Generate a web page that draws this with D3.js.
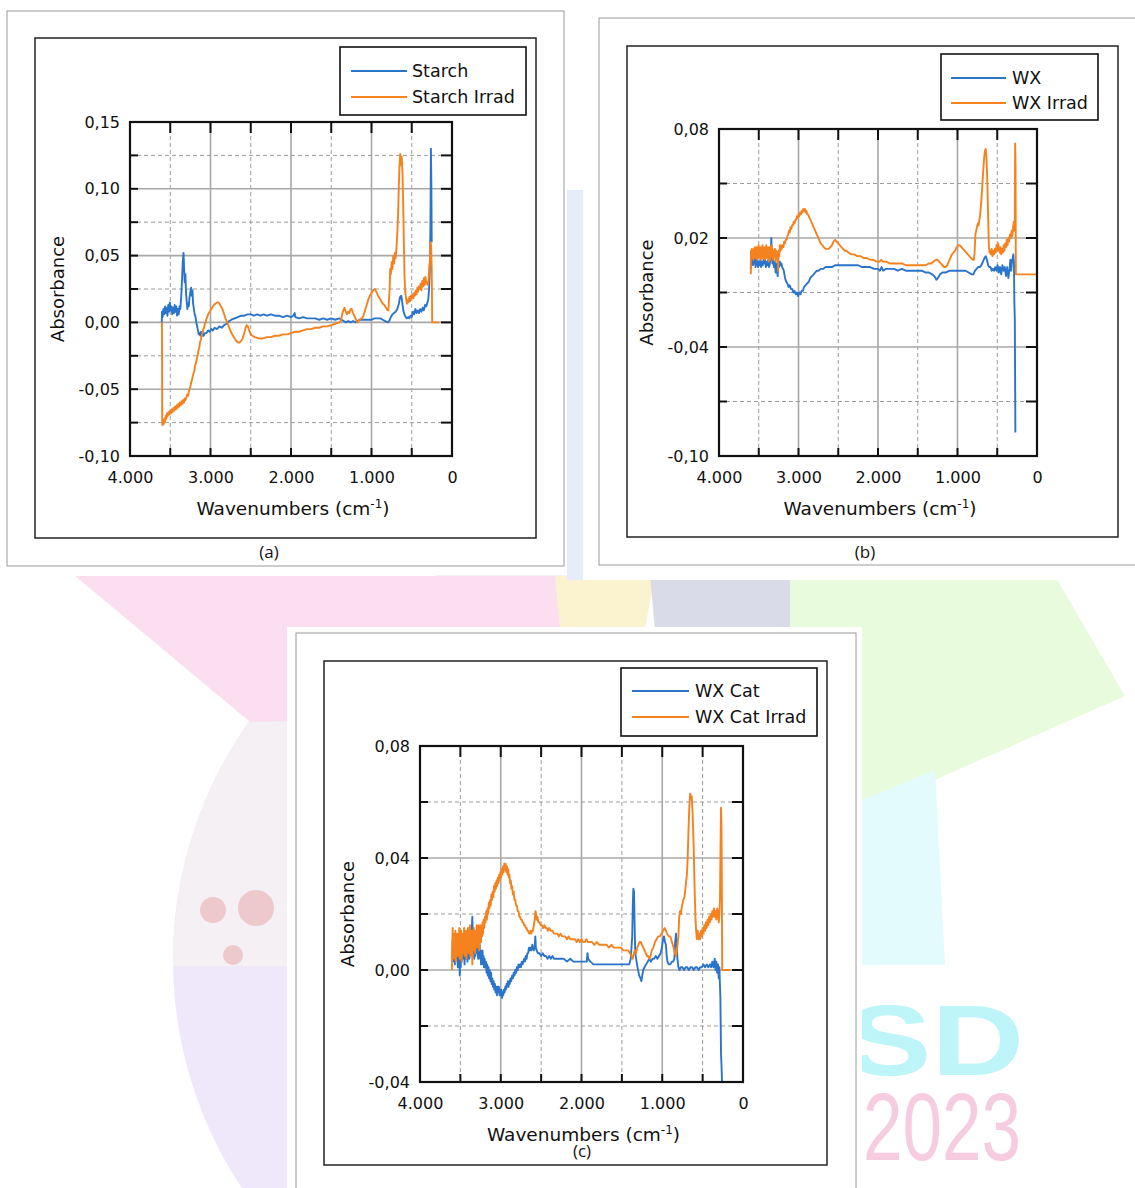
<!DOCTYPE html>
<html>
<head>
<meta charset="utf-8">
<script src="https://cdn.jsdelivr.net/npm/d3@7"></script>
<style>
  body { margin: 0; background: #fff; }
  svg { display: block; }
</style>
</head>
<body>
<script>
// ---- data: [wavenumber, absorbance] ----
var starch = [[3605,0.000],[3603,0.008],[3595,0.004],[3585,0.010],[3575,0.006],[3565,0.012],[3555,0.007],[3545,0.011],[3535,0.005],[3525,0.013],[3515,0.008],[3505,0.015],[3495,0.009],[3485,0.012],[3475,0.006],[3465,0.011],[3455,0.007],[3445,0.013],[3435,0.008],[3425,0.012],[3415,0.005],[3405,0.010],[3395,0.006],[3385,0.012],[3375,0.010],[3365,0.018],[3355,0.030],[3345,0.045],[3335,0.052],[3328,0.040],[3320,0.030],[3312,0.036],[3304,0.022],[3296,0.016],[3288,0.010],[3280,0.014],[3270,0.012],[3262,0.018],[3252,0.022],[3240,0.026],[3232,0.020],[3224,0.024],[3216,0.014],[3206,0.010],[3196,0.006],[3186,0.004],[3176,0.000],[3166,-0.003],[3156,-0.006],[3146,-0.009],[3136,-0.008],[3126,-0.010],[3116,-0.007],[3106,-0.010],[3096,-0.008],[3086,-0.010],[3070,-0.008],[3050,-0.008],[3030,-0.006],[3010,-0.007],[2990,-0.005],[2970,-0.006],[2950,-0.004],[2920,-0.005],[2890,-0.003],[2860,-0.004],[2830,-0.002],[2800,-0.001],[2770,0.001],[2740,0.002],[2700,0.003],[2660,0.004],[2620,0.005],[2580,0.005],[2540,0.006],[2500,0.006],[2460,0.005],[2420,0.006],[2380,0.005],[2340,0.006],[2300,0.005],[2250,0.006],[2200,0.005],[2150,0.005],[2100,0.004],[2050,0.005],[2000,0.004],[1970,0.005],[1955,0.007],[1945,0.004],[1900,0.003],[1850,0.004],[1800,0.003],[1750,0.003],[1700,0.003],[1650,0.002],[1600,0.003],[1550,0.002],[1500,0.003],[1450,0.002],[1400,0.003],[1370,0.002],[1345,0.001],[1320,0.000],[1290,0.001],[1260,0.000],[1230,0.001],[1200,0.000],[1180,0.001],[1150,0.002],[1100,0.002],[1050,0.002],[1000,0.002],[960,0.003],[920,0.003],[890,0.003],[860,0.002],[830,0.001],[800,0.000],[780,0.001],[760,0.004],[740,0.006],[720,0.007],[700,0.008],[680,0.010],[660,0.014],[645,0.019],[630,0.020],[618,0.015],[605,0.009],[590,0.006],[575,0.004],[560,0.003],[545,0.004],[530,0.003],[515,0.005],[500,0.004],[485,0.008],[470,0.006],[455,0.010],[440,0.007],[425,0.009],[410,0.007],[395,0.010],[380,0.008],[365,0.011],[350,0.009],[335,0.013],[320,0.012],[305,0.015],[295,0.017],[285,0.025],[275,0.040],[268,0.070],[262,0.130],[256,0.100],[252,0.060]];

var starchIrrad = [[3603,0.000],[3600,-0.075],[3595,-0.077],[3588,-0.073],[3580,-0.076],[3572,-0.072],[3564,-0.074],[3556,-0.070],[3548,-0.072],[3540,-0.068],[3530,-0.070],[3520,-0.067],[3510,-0.069],[3500,-0.066],[3490,-0.068],[3480,-0.065],[3470,-0.067],[3460,-0.064],[3450,-0.066],[3440,-0.063],[3430,-0.065],[3420,-0.062],[3410,-0.064],[3400,-0.061],[3390,-0.063],[3380,-0.060],[3370,-0.062],[3360,-0.059],[3350,-0.061],[3340,-0.058],[3330,-0.060],[3320,-0.057],[3310,-0.058],[3300,-0.056],[3290,-0.054],[3280,-0.055],[3270,-0.052],[3260,-0.050],[3250,-0.048],[3240,-0.045],[3230,-0.043],[3220,-0.040],[3210,-0.038],[3200,-0.036],[3190,-0.032],[3180,-0.030],[3170,-0.027],[3160,-0.025],[3150,-0.021],[3140,-0.019],[3130,-0.015],[3120,-0.013],[3110,-0.010],[3100,-0.008],[3090,-0.005],[3080,-0.004],[3070,-0.001],[3060,0.000],[3050,0.003],[3040,0.004],[3030,0.006],[3020,0.007],[3000,0.009],[2980,0.011],[2960,0.013],[2940,0.014],[2920,0.015],[2900,0.015],[2880,0.013],[2860,0.011],[2840,0.008],[2820,0.004],[2800,0.001],[2780,-0.002],[2760,-0.005],[2740,-0.008],[2720,-0.010],[2700,-0.012],[2680,-0.014],[2660,-0.015],[2640,-0.015],[2620,-0.014],[2600,-0.012],[2580,-0.008],[2565,-0.004],[2550,-0.002],[2535,-0.003],[2520,-0.006],[2500,-0.009],[2480,-0.010],[2450,-0.011],[2400,-0.012],[2350,-0.012],[2300,-0.011],[2250,-0.011],[2200,-0.010],[2150,-0.010],[2100,-0.009],[2050,-0.009],[2000,-0.008],[1950,-0.007],[1900,-0.007],[1850,-0.006],[1800,-0.005],[1750,-0.005],[1700,-0.004],[1650,-0.004],[1600,-0.003],[1550,-0.003],[1500,-0.002],[1450,-0.001],[1400,0.000],[1380,0.001],[1365,0.006],[1350,0.009],[1335,0.011],[1320,0.008],[1305,0.006],[1290,0.008],[1275,0.007],[1260,0.010],[1245,0.010],[1230,0.007],[1215,0.005],[1200,0.003],[1185,0.001],[1170,0.000],[1150,0.002],[1120,0.003],[1100,0.005],[1080,0.009],[1060,0.013],[1040,0.017],[1020,0.020],[1000,0.022],[980,0.024],[960,0.025],[940,0.023],[920,0.020],[900,0.018],[880,0.016],[860,0.014],[840,0.013],[820,0.011],[800,0.009],[790,0.009],[775,0.025],[768,0.040],[760,0.036],[750,0.045],[740,0.040],[730,0.050],[720,0.044],[710,0.052],[700,0.048],[690,0.056],[680,0.066],[670,0.080],[660,0.104],[650,0.120],[643,0.126],[635,0.118],[625,0.124],[615,0.112],[605,0.084],[598,0.060],[590,0.035],[580,0.022],[570,0.018],[560,0.014],[550,0.017],[540,0.015],[530,0.019],[520,0.016],[510,0.020],[500,0.018],[490,0.021],[480,0.018],[470,0.022],[460,0.020],[450,0.024],[440,0.021],[430,0.026],[420,0.023],[410,0.027],[400,0.025],[390,0.029],[380,0.024],[370,0.031],[360,0.027],[350,0.033],[340,0.028],[330,0.034],[320,0.029],[310,0.030],[300,0.028],[290,0.032],[282,0.042],[275,0.046],[268,0.060],[260,0.058],[252,0.040],[246,0.000],[160,0.000]];

var wx = [[3600,0.003],[3595,0.009],[3588,0.006],[3580,0.009],[3572,0.005],[3564,0.008],[3556,0.006],[3548,0.009],[3540,0.004],[3532,0.008],[3524,0.005],[3516,0.008],[3508,0.004],[3500,0.007],[3490,0.005],[3480,0.008],[3470,0.004],[3460,0.007],[3450,0.005],[3440,0.008],[3430,0.006],[3420,0.008],[3410,0.004],[3400,0.007],[3390,0.005],[3380,0.008],[3370,0.004],[3360,0.006],[3350,0.010],[3342,0.020],[3336,0.012],[3328,0.006],[3318,0.008],[3308,0.004],[3298,0.007],[3288,0.001],[3280,0.006],[3270,0.002],[3262,-0.001],[3255,0.006],[3245,0.004],[3235,0.007],[3225,0.005],[3215,0.006],[3205,0.004],[3195,0.003],[3185,0.002],[3170,-0.002],[3155,-0.004],[3140,-0.005],[3125,-0.007],[3110,-0.006],[3095,-0.008],[3080,-0.008],[3065,-0.010],[3050,-0.009],[3035,-0.011],[3020,-0.010],[3005,-0.012],[2990,-0.010],[2975,-0.011],[2960,-0.009],[2945,-0.009],[2930,-0.007],[2910,-0.006],[2890,-0.005],[2870,-0.004],[2850,-0.002],[2830,-0.001],[2810,0.000],[2790,0.001],[2770,0.002],[2750,0.002],[2720,0.003],[2690,0.003],[2660,0.004],[2620,0.004],[2580,0.004],[2540,0.005],[2500,0.005],[2450,0.005],[2400,0.005],[2350,0.005],[2300,0.005],[2250,0.005],[2200,0.004],[2150,0.004],[2100,0.004],[2050,0.003],[2000,0.003],[1975,0.002],[1955,0.004],[1935,0.002],[1900,0.003],[1850,0.003],[1800,0.003],[1750,0.002],[1700,0.003],[1650,0.002],[1600,0.002],[1550,0.002],[1500,0.002],[1450,0.002],[1400,0.001],[1360,0.001],[1320,0.000],[1290,-0.001],[1265,-0.003],[1245,-0.002],[1220,0.000],[1190,0.001],[1150,0.001],[1100,0.002],[1050,0.002],[1000,0.002],[950,0.002],[900,0.002],[860,0.001],[820,0.000],[800,0.000],[780,0.002],[760,0.003],[740,0.004],[720,0.004],[700,0.005],[680,0.007],[660,0.009],[645,0.010],[630,0.008],[615,0.005],[600,0.004],[585,0.004],[570,0.002],[555,0.003],[540,0.002],[525,0.004],[510,0.002],[495,0.005],[480,0.001],[465,0.004],[450,0.000],[435,0.005],[420,0.002],[405,0.004],[390,-0.001],[375,0.004],[360,-0.002],[345,0.003],[335,0.008],[325,0.002],[315,0.007],[305,0.009],[298,0.011],[290,0.006],[285,-0.015],[279,-0.025],[272,-0.087]];

var wxIrrad = [[3600,0.000],[3598,0.013],[3592,0.009],[3586,0.014],[3580,0.010],[3574,0.013],[3568,0.008],[3562,0.014],[3556,0.011],[3550,0.015],[3544,0.009],[3538,0.013],[3532,0.010],[3526,0.015],[3520,0.008],[3514,0.014],[3508,0.011],[3502,0.016],[3496,0.009],[3490,0.013],[3484,0.010],[3478,0.015],[3472,0.008],[3466,0.013],[3460,0.011],[3454,0.016],[3448,0.009],[3442,0.014],[3436,0.011],[3430,0.015],[3424,0.008],[3418,0.013],[3412,0.010],[3406,0.016],[3400,0.009],[3394,0.014],[3388,0.011],[3382,0.015],[3376,0.007],[3370,0.012],[3364,0.010],[3358,0.015],[3352,0.008],[3346,0.013],[3340,0.016],[3334,0.010],[3328,0.014],[3320,0.008],[3312,0.013],[3304,0.010],[3296,0.014],[3288,0.007],[3280,0.013],[3272,0.009],[3264,0.012],[3256,0.002],[3250,0.013],[3242,0.010],[3234,0.016],[3226,0.013],[3218,0.016],[3210,0.014],[3200,0.016],[3190,0.015],[3180,0.018],[3170,0.017],[3160,0.019],[3150,0.019],[3140,0.021],[3130,0.022],[3120,0.024],[3110,0.023],[3100,0.026],[3090,0.025],[3080,0.027],[3070,0.027],[3060,0.029],[3050,0.028],[3040,0.030],[3030,0.030],[3020,0.032],[3010,0.031],[3000,0.033],[2990,0.032],[2980,0.034],[2970,0.033],[2960,0.035],[2950,0.034],[2940,0.036],[2930,0.035],[2920,0.036],[2910,0.034],[2900,0.035],[2890,0.033],[2880,0.033],[2860,0.031],[2840,0.029],[2820,0.027],[2800,0.025],[2780,0.023],[2760,0.021],[2740,0.019],[2720,0.017],[2700,0.016],[2680,0.015],[2660,0.014],[2640,0.014],[2620,0.014],[2600,0.015],[2580,0.016],[2560,0.018],[2540,0.019],[2520,0.018],[2500,0.017],[2480,0.016],[2460,0.015],[2440,0.014],[2420,0.013],[2400,0.013],[2370,0.012],[2340,0.011],[2300,0.011],[2260,0.010],[2220,0.010],[2180,0.009],[2140,0.009],[2100,0.008],[2060,0.008],[2020,0.007],[1980,0.007],[1960,0.008],[1940,0.007],[1900,0.007],[1850,0.006],[1800,0.006],[1750,0.006],[1700,0.006],[1650,0.005],[1600,0.005],[1550,0.005],[1500,0.005],[1450,0.005],[1400,0.005],[1360,0.006],[1330,0.006],[1300,0.007],[1270,0.008],[1250,0.008],[1230,0.007],[1210,0.006],[1190,0.005],[1170,0.004],[1150,0.004],[1130,0.005],[1110,0.007],[1090,0.009],[1070,0.011],[1050,0.012],[1030,0.013],[1010,0.015],[990,0.016],[970,0.016],[950,0.015],[930,0.014],[910,0.013],[890,0.012],[870,0.011],[850,0.010],[830,0.009],[810,0.008],[795,0.008],[785,0.012],[775,0.022],[765,0.024],[755,0.026],[745,0.028],[735,0.027],[725,0.030],[715,0.033],[705,0.038],[695,0.044],[685,0.051],[675,0.058],[665,0.064],[655,0.068],[645,0.069],[638,0.066],[630,0.058],[622,0.046],[614,0.030],[606,0.016],[598,0.012],[590,0.013],[580,0.011],[570,0.014],[560,0.010],[550,0.013],[540,0.011],[530,0.014],[520,0.012],[510,0.016],[500,0.013],[490,0.017],[480,0.014],[470,0.012],[460,0.015],[450,0.011],[440,0.014],[430,0.012],[420,0.016],[410,0.013],[400,0.017],[390,0.015],[380,0.019],[370,0.016],[360,0.020],[350,0.018],[340,0.022],[330,0.020],[320,0.024],[310,0.021],[300,0.026],[292,0.029],[286,0.024],[280,0.026],[275,0.072],[270,0.060],[266,0.000],[0,0.000]];

var wxCat = [[3600,0.004],[3595,0.010],[3590,0.006],[3585,0.011],[3580,0.003],[3574,0.008],[3568,0.002],[3562,0.009],[3556,0.005],[3550,0.010],[3544,0.004],[3538,0.007],[3532,0.001],[3526,0.006],[3520,0.003],[3514,0.008],[3508,-0.002],[3502,0.004],[3496,0.001],[3490,0.007],[3484,0.003],[3478,0.009],[3472,0.004],[3466,0.010],[3460,0.005],[3454,0.008],[3448,0.002],[3442,0.009],[3436,0.004],[3430,0.011],[3424,0.006],[3418,0.009],[3412,0.003],[3406,0.008],[3400,0.005],[3394,0.010],[3388,0.004],[3382,0.009],[3376,0.006],[3370,0.012],[3364,0.007],[3358,0.015],[3352,0.019],[3346,0.010],[3340,0.006],[3334,0.011],[3328,0.004],[3322,0.009],[3316,0.005],[3310,0.010],[3304,0.006],[3298,0.012],[3292,0.008],[3286,0.007],[3280,0.004],[3274,0.009],[3268,0.006],[3262,0.010],[3256,0.004],[3250,0.007],[3244,0.002],[3238,0.006],[3232,0.003],[3226,0.007],[3220,0.002],[3214,0.005],[3208,0.001],[3200,0.004],[3192,0.001],[3184,0.003],[3176,-0.001],[3168,0.002],[3160,-0.002],[3152,0.001],[3144,-0.003],[3136,0.000],[3128,-0.004],[3120,-0.001],[3112,-0.005],[3104,-0.003],[3096,-0.006],[3088,-0.004],[3080,-0.007],[3072,-0.005],[3064,-0.008],[3056,-0.006],[3048,-0.009],[3040,-0.006],[3032,-0.008],[3024,-0.006],[3016,-0.009],[3008,-0.007],[3000,-0.009],[2992,-0.007],[2984,-0.010],[2976,-0.008],[2968,-0.009],[2960,-0.007],[2952,-0.008],[2944,-0.006],[2936,-0.007],[2928,-0.005],[2920,-0.006],[2912,-0.004],[2904,-0.006],[2896,-0.004],[2888,-0.005],[2880,-0.003],[2870,-0.004],[2860,-0.002],[2850,-0.003],[2840,-0.001],[2830,-0.002],[2820,0.000],[2810,-0.001],[2800,0.001],[2790,0.000],[2780,0.002],[2770,0.001],[2760,0.002],[2750,0.001],[2740,0.003],[2730,0.002],[2720,0.003],[2710,0.004],[2700,0.003],[2690,0.005],[2680,0.004],[2670,0.006],[2660,0.006],[2650,0.008],[2640,0.007],[2630,0.008],[2620,0.007],[2610,0.009],[2600,0.008],[2590,0.007],[2580,0.008],[2572,0.012],[2565,0.008],[2555,0.007],[2540,0.006],[2520,0.006],[2500,0.005],[2480,0.006],[2460,0.005],[2440,0.005],[2420,0.004],[2400,0.005],[2380,0.004],[2360,0.005],[2340,0.004],[2300,0.004],[2260,0.004],[2220,0.004],[2180,0.003],[2140,0.004],[2100,0.003],[2060,0.003],[2020,0.003],[1990,0.003],[1960,0.003],[1935,0.003],[1926,0.006],[1918,0.004],[1890,0.003],[1850,0.002],[1800,0.002],[1750,0.002],[1700,0.002],[1650,0.002],[1600,0.002],[1550,0.002],[1500,0.002],[1450,0.002],[1410,0.002],[1390,0.004],[1372,0.012],[1364,0.024],[1358,0.029],[1350,0.028],[1342,0.016],[1334,0.006],[1318,0.003],[1300,0.000],[1285,-0.002],[1270,-0.003],[1258,-0.004],[1248,-0.002],[1235,0.000],[1220,0.001],[1200,0.002],[1180,0.003],[1160,0.004],[1140,0.003],[1120,0.004],[1100,0.004],[1080,0.005],[1060,0.004],[1040,0.005],[1020,0.006],[1005,0.008],[990,0.011],[978,0.012],[966,0.010],[955,0.009],[945,0.005],[935,0.003],[920,0.002],[900,0.002],[880,0.003],[865,0.003],[850,0.004],[840,0.010],[830,0.013],[822,0.010],[812,0.004],[800,0.001],[785,0.000],[770,0.001],[750,0.001],[730,0.000],[710,0.001],[690,0.001],[670,0.000],[650,0.001],[630,0.001],[610,0.000],[590,0.001],[570,0.001],[550,0.000],[530,0.001],[510,0.001],[490,0.002],[470,0.001],[450,0.002],[430,0.001],[410,0.002],[395,0.001],[380,0.003],[365,0.001],[350,0.004],[340,0.000],[330,0.003],[320,-0.001],[310,0.002],[300,-0.003],[292,0.001],[286,-0.005],[280,-0.010],[272,-0.030],[266,-0.034],[260,-0.040]];

var wxCatIrrad = [[3605,0.000],[3600,0.010],[3595,0.015],[3590,0.006],[3585,0.013],[3580,0.004],[3574,0.012],[3568,0.007],[3562,0.014],[3556,0.003],[3550,0.011],[3544,0.006],[3538,0.013],[3532,0.005],[3526,0.012],[3520,0.008],[3514,0.015],[3508,0.004],[3502,0.012],[3496,0.007],[3490,0.014],[3484,0.003],[3478,0.011],[3472,0.006],[3466,0.013],[3460,0.009],[3454,0.015],[3448,0.005],[3442,0.013],[3436,0.008],[3430,0.014],[3424,0.004],[3418,0.012],[3412,0.007],[3406,0.015],[3400,0.006],[3394,0.013],[3388,0.009],[3382,0.016],[3376,0.005],[3370,0.012],[3364,0.008],[3358,0.014],[3352,0.002],[3346,0.011],[3340,0.007],[3334,0.015],[3328,0.010],[3322,0.013],[3316,0.006],[3310,0.014],[3304,0.009],[3298,0.016],[3292,0.008],[3286,0.013],[3280,0.010],[3274,0.016],[3268,0.007],[3262,0.014],[3256,0.011],[3250,0.016],[3244,0.010],[3238,0.015],[3232,0.012],[3226,0.017],[3220,0.013],[3212,0.018],[3204,0.015],[3196,0.019],[3188,0.017],[3180,0.021],[3172,0.018],[3164,0.022],[3156,0.020],[3148,0.024],[3140,0.022],[3132,0.025],[3124,0.023],[3116,0.027],[3108,0.025],[3100,0.028],[3092,0.026],[3084,0.030],[3076,0.028],[3068,0.031],[3060,0.029],[3052,0.032],[3044,0.030],[3036,0.033],[3028,0.031],[3020,0.034],[3012,0.032],[3004,0.035],[2996,0.033],[2988,0.036],[2980,0.034],[2972,0.037],[2964,0.035],[2956,0.038],[2948,0.036],[2940,0.038],[2932,0.035],[2924,0.037],[2916,0.034],[2908,0.036],[2900,0.033],[2892,0.034],[2884,0.031],[2876,0.032],[2868,0.029],[2860,0.030],[2850,0.027],[2840,0.028],[2830,0.025],[2820,0.025],[2810,0.023],[2800,0.023],[2790,0.021],[2780,0.021],[2770,0.019],[2760,0.019],[2750,0.018],[2740,0.018],[2730,0.017],[2720,0.017],[2710,0.016],[2700,0.016],[2690,0.015],[2680,0.015],[2670,0.014],[2660,0.014],[2650,0.013],[2640,0.013],[2630,0.014],[2620,0.013],[2610,0.014],[2600,0.014],[2590,0.016],[2580,0.018],[2570,0.021],[2562,0.020],[2555,0.018],[2545,0.019],[2535,0.017],[2520,0.017],[2505,0.016],[2490,0.016],[2475,0.015],[2460,0.016],[2445,0.015],[2430,0.015],[2415,0.014],[2400,0.015],[2380,0.014],[2360,0.014],[2340,0.013],[2320,0.013],[2300,0.013],[2280,0.012],[2260,0.013],[2240,0.012],[2220,0.012],[2200,0.012],[2180,0.011],[2160,0.012],[2140,0.011],[2120,0.011],[2100,0.011],[2080,0.011],[2060,0.010],[2040,0.011],[2020,0.010],[2000,0.011],[1980,0.010],[1960,0.010],[1940,0.011],[1920,0.010],[1900,0.010],[1870,0.010],[1840,0.009],[1810,0.010],[1780,0.009],[1750,0.009],[1720,0.009],[1690,0.009],[1660,0.008],[1630,0.009],[1600,0.008],[1570,0.008],[1540,0.008],[1510,0.008],[1480,0.007],[1450,0.007],[1420,0.007],[1400,0.006],[1380,0.005],[1365,0.004],[1352,0.006],[1340,0.007],[1325,0.006],[1310,0.008],[1295,0.009],[1280,0.010],[1265,0.010],[1250,0.009],[1235,0.008],[1220,0.007],[1205,0.006],[1190,0.005],[1175,0.005],[1160,0.004],[1145,0.005],[1130,0.007],[1110,0.008],[1090,0.010],[1070,0.011],[1050,0.012],[1030,0.012],[1010,0.013],[990,0.014],[970,0.015],[955,0.014],[940,0.013],[920,0.012],[900,0.012],[880,0.010],[860,0.008],[845,0.006],[830,0.005],[815,0.008],[800,0.012],[790,0.019],[780,0.021],[770,0.020],[755,0.023],[740,0.025],[725,0.026],[710,0.030],[695,0.034],[685,0.040],[675,0.050],[665,0.058],[655,0.063],[645,0.061],[635,0.062],[624,0.056],[612,0.045],[600,0.030],[588,0.018],[578,0.013],[570,0.011],[560,0.014],[550,0.011],[540,0.013],[530,0.011],[520,0.014],[510,0.012],[500,0.015],[490,0.013],[480,0.016],[470,0.014],[460,0.017],[450,0.015],[440,0.018],[430,0.016],[420,0.019],[410,0.017],[400,0.020],[390,0.018],[380,0.021],[370,0.019],[360,0.022],[350,0.019],[340,0.021],[330,0.018],[320,0.022],[310,0.021],[300,0.017],[292,0.020],[285,0.025],[278,0.045],[272,0.058],[266,0.050],[262,0.030],[258,0.000],[160,0.000]];

var seriesNames = [["Starch", "Starch Irrad"], ["WX", "WX Irrad"], ["WX Cat", "WX Cat Irrad"]];
var xTicks = [4000, 3000, 2000, 1000, 0];
var yTicksA = [-0.10, -0.05, 0.00, 0.05, 0.10, 0.15];
var yTicksB = [-0.10, -0.04, 0.02, 0.08];
var yTicksC = [-0.04, 0.00, 0.04, 0.08];
var captions = ["(a)", "(b)", "(c)"];

var BLUE = "#2a74cc", ORANGE = "#f5821f";
var FONT = "DejaVu Sans, Verdana, sans-serif";

var loc = d3.formatLocale({decimal: ",", thousands: ".", grouping: [3], currency: ["", ""], minus: "-"});
var fmtX = loc.format(",.0f");
var fmtY = loc.format(".2f");

var svg = d3.select("body").append("svg")
  .attr("width", 1135).attr("height", 1188);

// ---- pastel backdrop behind the panels ----
var defs = svg.append("defs");
defs.append("clipPath").attr("id", "globe")
  .append("circle").attr("cx", 585).attr("cy", 960).attr("r", 412);
defs.append("clipPath").attr("id", "leftside")
  .append("rect").attr("x", 0).attr("y", 0).attr("width", 600).attr("height", 1188);

var bg = svg.append("g");
var globe = bg.append("g").attr("clip-path", "url(#leftside)")
  .append("g").attr("clip-path", "url(#globe)");
globe.append("rect").attr("x", 0).attr("y", 540).attr("width", 600).attr("height", 660).attr("fill", "#eee8fa");
globe.append("rect").attr("x", 0).attr("y", 540).attr("width", 600).attr("height", 426).attr("fill", "#f4f0f3");
bg.append("path").attr("d", "M75,576 L580,576 L560,715 L250,722 Z").attr("fill", "#fbdff1");
bg.append("path").attr("d", "M555,576 L655,576 L645,628 L560,628 Z").attr("fill", "#fbf3cf");
bg.append("path").attr("d", "M650,576 L830,576 L805,630 L655,630 Z").attr("fill", "#d9dce8");
bg.append("path").attr("d", "M790,576 L1055,576 L1125,696 L862,812 L790,812 Z").attr("fill", "#e8fbdc");
bg.append("path").attr("d", "M862,800 L935,770 L945,965 L862,965 Z").attr("fill", "#e3fbfd");
bg.append("rect").attr("x", 567).attr("y", 190).attr("width", 16).attr("height", 390).attr("fill", "#e6edf9");
[[213, 910, 13], [256, 908, 18], [233, 955, 10]].forEach(function (c) {
  bg.append("circle").attr("cx", c[0]).attr("cy", c[1]).attr("r", c[2]).attr("fill", "#eec9cb");
});
bg.append("text").attr("x", 846).attr("y", 1075).attr("font-family", "Liberation Sans, Arial, sans-serif")
  .attr("font-weight", "bold").attr("font-size", 100).attr("textLength", 178).attr("lengthAdjust", "spacingAndGlyphs")
  .attr("fill", "#bdf5f8").text("SD");
bg.append("text").attr("x", 863).attr("y", 1160).attr("font-family", "Liberation Sans, Arial, sans-serif")
  .attr("font-size", 96).attr("textLength", 158).attr("lengthAdjust", "spacingAndGlyphs")
  .attr("fill", "#f6cde0").text("2023");

// ---- one spectrum panel ----
function drawPanel(cfg) {
  var g = svg.append("g");
  var p = cfg.plot;

  g.append("rect").attr("x", cfg.bg[0]).attr("y", cfg.bg[1])
    .attr("width", cfg.bg[2] - cfg.bg[0]).attr("height", cfg.bg[3] - cfg.bg[1]).attr("fill", "#fff");
  g.append("rect").attr("x", cfg.outer[0]).attr("y", cfg.outer[1])
    .attr("width", cfg.outer[2] - cfg.outer[0]).attr("height", cfg.outer[3] - cfg.outer[1])
    .attr("fill", "none").attr("stroke", "#9a9a9a").attr("stroke-width", 1);
  g.append("rect").attr("x", cfg.inner[0]).attr("y", cfg.inner[1])
    .attr("width", cfg.inner[2] - cfg.inner[0]).attr("height", cfg.inner[3] - cfg.inner[1])
    .attr("fill", "none").attr("stroke", "#222").attr("stroke-width", 1.5);

  var x = d3.scaleLinear().domain([4000, 0]).range([p.l, p.r]);
  var yT = cfg.yTicks;
  var y = d3.scaleLinear().domain([yT[0], yT[yT.length - 1]]).range([p.b, p.t]);

  // grid: 500 cm-1 steps on x, half-steps on y; whole steps solid, halves dashed
  var xs = d3.range(1, 8).map(function (i) { return i * 500; });
  var step = (yT[1] - yT[0]) / 2;
  var ys = d3.range(1, (yT.length - 1) * 2).map(function (i) { return yT[0] + i * step; });

  var grid = g.append("g");
  xs.forEach(function (v) {
    var major = v % 1000 === 0;
    grid.append("line").attr("x1", x(v)).attr("x2", x(v)).attr("y1", p.t).attr("y2", p.b)
      .attr("stroke", major ? "#a8a8a8" : "#9c9c9c").attr("stroke-width", major ? 1.6 : 1)
      .attr("stroke-dasharray", major ? null : "4,3");
  });
  ys.forEach(function (v, i) {
    var major = i % 2 === 1;
    grid.append("line").attr("x1", p.l).attr("x2", p.r).attr("y1", y(v)).attr("y2", y(v))
      .attr("stroke", major ? "#a8a8a8" : "#9c9c9c").attr("stroke-width", major ? 1.6 : 1)
      .attr("stroke-dasharray", major ? null : "4,3");
  });

  // inward tick marks
  var tk = g.append("g").attr("stroke", "#111").attr("stroke-width", 2);
  xs.forEach(function (v) {
    tk.append("line").attr("x1", x(v)).attr("x2", x(v)).attr("y1", p.t).attr("y2", p.t + 11);
    tk.append("line").attr("x1", x(v)).attr("x2", x(v)).attr("y1", p.b).attr("y2", p.b - 8);
  });
  ys.forEach(function (v) {
    tk.append("line").attr("x1", p.r).attr("x2", p.r - 11).attr("y1", y(v)).attr("y2", y(v));
    tk.append("line").attr("x1", p.l).attr("x2", p.l + 8).attr("y1", y(v)).attr("y2", y(v));
  });

  // spectra
  var line = d3.line().x(function (d) { return x(d[0]); }).y(function (d) { return y(d[1]); });
  g.append("path").datum(cfg.series[0]).attr("d", line)
    .attr("fill", "none").attr("stroke", BLUE).attr("stroke-width", 1.9).attr("stroke-linejoin", "round");
  g.append("path").datum(cfg.series[1]).attr("d", line)
    .attr("fill", "none").attr("stroke", ORANGE).attr("stroke-width", 1.9).attr("stroke-linejoin", "round");

  // frame
  g.append("rect").attr("x", p.l).attr("y", p.t).attr("width", p.r - p.l).attr("height", p.b - p.t)
    .attr("fill", "none").attr("stroke", "#111").attr("stroke-width", 2.2);

  // tick labels through d3 axes
  var ax = g.append("g").attr("transform", "translate(0," + p.b + ")")
    .call(d3.axisBottom(x).tickValues(xTicks).tickFormat(fmtX).tickSize(0).tickPadding(16));
  var ay = g.append("g").attr("transform", "translate(" + p.l + ",0)")
    .call(d3.axisLeft(y).tickValues(yT).tickFormat(fmtY).tickSize(0).tickPadding(10));
  [ax, ay].forEach(function (a) {
    a.select(".domain").remove();
    a.selectAll("text").attr("font-family", FONT).attr("font-size", 16).attr("fill", "#111");
  });

  g.append("text").attr("transform", "translate(" + (p.l - 72) + "," + ((p.t + p.b) / 2) + ") rotate(-90)")
    .attr("text-anchor", "middle").attr("dy", "0.35em")
    .attr("font-family", FONT).attr("font-size", 18).attr("fill", "#111").text("Absorbance");

  var xt = g.append("text").attr("x", (p.l + p.r) / 2 + 2).attr("y", p.b + 59)
    .attr("text-anchor", "middle").attr("font-family", FONT).attr("font-size", 18.5).attr("fill", "#111");
  xt.append("tspan").text("Wavenumbers (cm");
  xt.append("tspan").attr("dy", -7).attr("font-size", 12).text("-1");
  xt.append("tspan").attr("dy", 7).text(")");

  // legend
  var L = cfg.legend;
  g.append("rect").attr("x", L.box[0]).attr("y", L.box[1])
    .attr("width", L.box[2] - L.box[0]).attr("height", L.box[3] - L.box[1])
    .attr("fill", "#fff").attr("stroke", "#111").attr("stroke-width", 1.6);
  [BLUE, ORANGE].forEach(function (c, i) {
    g.append("line").attr("x1", L.line[0]).attr("x2", L.line[1]).attr("y1", L.rows[i]).attr("y2", L.rows[i])
      .attr("stroke", c).attr("stroke-width", 2);
    g.append("text").attr("x", L.textX).attr("y", L.rows[i]).attr("dy", "0.35em")
      .attr("font-family", FONT).attr("font-size", 17.5).attr("fill", "#111").text(cfg.names[i]);
  });

  g.append("text").attr("x", cfg.caption[0]).attr("y", cfg.caption[1]).attr("dy", "0.35em")
    .attr("text-anchor", "middle").attr("font-family", "Open Sans, sans-serif").attr("font-size", 17)
    .attr("fill", "#111").text(cfg.caption[2]);
}

drawPanel({
  bg: [0, 0, 567, 575], outer: [7, 11, 564, 566], inner: [35, 38, 536, 538],
  plot: {l: 130, t: 122, r: 452, b: 456}, yTicks: yTicksA,
  series: [starch, starchIrrad], names: seriesNames[0],
  legend: {box: [340, 47, 526, 115], line: [351, 407], textX: 412, rows: [71, 97]},
  caption: [269, 552, captions[0]]
});
drawPanel({
  bg: [583, 0, 1135, 580], outer: [599, 18, 1140, 565], inner: [627, 46, 1118, 537],
  plot: {l: 719, t: 129, r: 1037, b: 456}, yTicks: yTicksB,
  series: [wx, wxIrrad], names: seriesNames[1],
  legend: {box: [941, 54, 1098, 120], line: [951, 1006], textX: 1012, rows: [78, 103]},
  caption: [865, 552, captions[1]]
});
drawPanel({
  bg: [287, 627, 862, 1188], outer: [296, 633, 856, 1195], inner: [324, 661, 827, 1165],
  plot: {l: 420, t: 746, r: 743, b: 1082}, yTicks: yTicksC,
  series: [wxCat, wxCatIrrad], names: seriesNames[2],
  legend: {box: [621, 668, 817, 736], line: [632, 689], textX: 695, rows: [691, 717]},
  caption: [582, 1151, captions[2]]
});
</script>
</body>
</html>
